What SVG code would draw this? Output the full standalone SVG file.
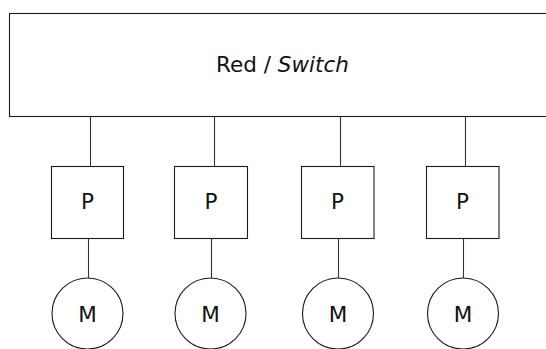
<svg xmlns="http://www.w3.org/2000/svg" width="546" height="349" viewBox="0 0 546 349">
  <style>
    .shape { fill: #ffffff; stroke: #1a1a1a; stroke-width: 1.1; }
    .wire { stroke: #333333; stroke-width: 1.1; fill: none; }
    .label { font-family: "DejaVu Sans", sans-serif; font-size: 21.5px; fill: #111111; text-anchor: middle; }
  </style>
  <rect width="546" height="349" fill="#ffffff"/>

  <g id="connectors">
    <line class="wire" x1="90.5" y1="117" x2="90.5" y2="166"/>
    <line class="wire" x1="214.5" y1="117" x2="214.5" y2="166"/>
    <line class="wire" x1="340.5" y1="117" x2="340.5" y2="166"/>
    <line class="wire" x1="465.5" y1="117" x2="465.5" y2="166"/>
    <line class="wire" x1="88.5" y1="238" x2="88.5" y2="278"/>
    <line class="wire" x1="211.5" y1="238" x2="211.5" y2="278"/>
    <line class="wire" x1="338.5" y1="238" x2="338.5" y2="278"/>
    <line class="wire" x1="463.5" y1="238" x2="463.5" y2="278"/>
  </g>

  <g id="network">
    <rect class="shape" x="9.5" y="13.5" width="560" height="103"/>
    <text class="label" x="282.5" y="71.5">Red / <tspan font-style="italic">Switch</tspan></text>
  </g>

  <g id="p1">
    <rect class="shape" x="51.5" y="166.5" width="72" height="72"/>
    <text class="label" x="87.5" y="209">P</text>
  </g>
  <g id="p2">
    <rect class="shape" x="174.5" y="166.5" width="73" height="72"/>
    <text class="label" x="211" y="209">P</text>
  </g>
  <g id="p3">
    <rect class="shape" x="301.5" y="166.5" width="72.5" height="72"/>
    <text class="label" x="337.5" y="209">P</text>
  </g>
  <g id="p4">
    <rect class="shape" x="426.5" y="166.5" width="72.5" height="72"/>
    <text class="label" x="462.5" y="209">P</text>
  </g>

  <g id="m1">
    <circle class="shape" cx="87.5" cy="313.5" r="35.5"/>
    <text class="label" x="87.5" y="321.5">M</text>
  </g>
  <g id="m2">
    <circle class="shape" cx="210.5" cy="313.5" r="35.5"/>
    <text class="label" x="210.5" y="321.5">M</text>
  </g>
  <g id="m3">
    <circle class="shape" cx="338" cy="313.5" r="35.5"/>
    <text class="label" x="338" y="321.5">M</text>
  </g>
  <g id="m4">
    <circle class="shape" cx="463" cy="313.5" r="35.5"/>
    <text class="label" x="463" y="321.5">M</text>
  </g>
</svg>
